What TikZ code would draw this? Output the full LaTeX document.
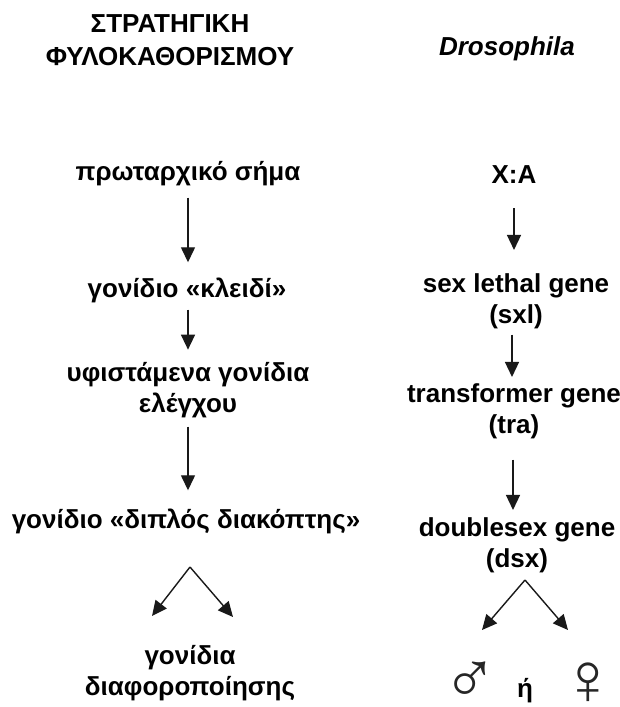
\documentclass[tikz,border=0pt]{standalone}
\usepackage{fontspec}
\setmainfont{Liberation Sans}
\usetikzlibrary{arrows.meta, positioning}

\begin{document}
\begin{tikzpicture}[x=1pt, y=-1pt,
    title/.style={font=\fontsize{26}{33}\selectfont\bfseries, align=center, inner sep=0pt, anchor=base},
    stage/.style={font=\fontsize{26}{31}\selectfont\bfseries, align=center, inner sep=0pt, anchor=base},
    sex/.style={font=\fontsize{74}{74}\selectfont, inner sep=0pt, text depth=0pt, anchor=base, black!85},
    flow/.style={-{Triangle[width=14pt,length=15pt]}, line width=1.4pt, black!90}]
    \useasboundingbox (0,0) rectangle (620,707);

    % Headings (base = last line)
    \node[title] (strat) at (170,65) {ΣΤΡΑΤΗΓΙΚΗ\\ΦΥΛΟΚΑΘΟΡΙΣΜΟΥ};
    \node[title] (dros) at (507,55) {\itshape Drosophila};

    % Left column: general scheme
    \node[stage] (signal) at (188,180) {πρωταρχικό σήμα};
    \node[stage] (key) at (187,297) {γονίδιο «κλειδί»};
    \node[stage] (control) at (188,412) {υφιστάμενα γονίδια\\ελέγχου};
    \node[stage] (switch) at (186,528) {γονίδιο «διπλός διακόπτης»};
    \node[stage] (diff) at (190,695) {γονίδια\\διαφοροποίησης};
    \coordinate (lsplit) at (190,567);
    \coordinate (lleft) at (152,616);
    \coordinate (lright) at (233,617);

    \draw[flow] ([yshift=-12pt]signal.south) -- ([yshift=15pt]signal.south |- key.north);
    \draw[flow] ([yshift=-7pt]signal.south |- key.south) -- ([yshift=12pt]signal.south |- control.north);
    \draw[flow] ([yshift=-9pt]signal.south |- control.south) -- ([yshift=18pt]signal.south |- switch.north);
    \draw[flow] (lsplit) -- (lleft);
    \draw[flow] (lsplit) -- (lright);

    % Right column: Drosophila
    \node[stage] (ratio) at (514,183) {X:A};
    \node[stage] (sxl) at (516,323) {sex lethal gene\\(sxl)};
    \node[stage] (tra) at (514,433) {transformer gene\\(tra)};
    \node[stage] (dsx) at (517,567) {doublesex gene\\(dsx)};
    \coordinate (rsplit) at (525,580);
    \coordinate (rleft) at (482,630);
    \coordinate (rright) at (568,630);

    \draw[flow] ([yshift=-25pt]ratio.south) -- ([yshift=23pt]ratio.south |- sxl.north);
    \draw[flow] ([xshift=-2pt,yshift=-6pt]tra.north |- sxl.south) -- ([xshift=-2pt,yshift=6pt]tra.north);
    \draw[flow] ([xshift=-1pt,yshift=-21pt]tra.south) -- ([xshift=-1pt,yshift=7pt]tra.south |- dsx.north);
    \draw[flow] (rsplit) -- (rleft);
    \draw[flow] (rsplit) -- (rright);

    \node[sex] (male) at (470,703) {♂};
    \node[stage] (or) at (525,697) {ή};
    \node[sex] (female) at (588,704) {♀};
\end{tikzpicture}
\end{document}
